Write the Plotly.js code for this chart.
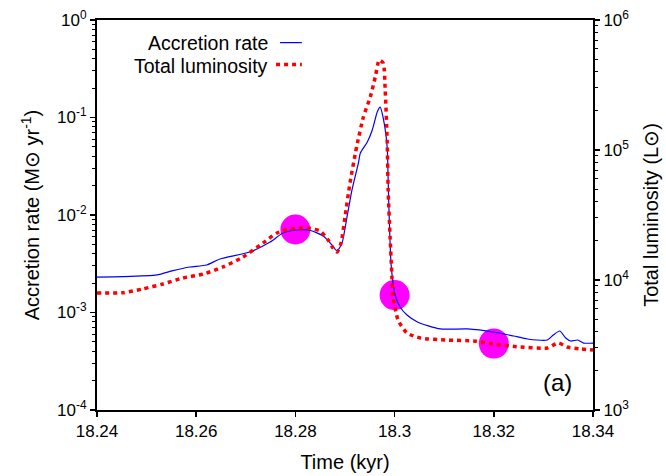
<!DOCTYPE html>
<html>
<head>
<meta charset="utf-8">
<script src="https://cdn.plot.ly/plotly-3.0.1.min.js"></script>
<style>html,body{margin:0;padding:0;background:#fff;}#chart{width:666px;height:476px;}</style>
</head>
<body>
<div id="chart"></div>
<script>
// Accretion rate (Msun/yr) vs time (kyr)
const timeAcc = [18.2400, 18.2452, 18.2521, 18.2553, 18.2587, 18.2621, 18.2648, 18.2708, 18.2749, 18.2775, 18.2803, 18.2830,
  18.2856, 18.2874, 18.2884, 18.2894, 18.2904, 18.2914, 18.2927, 18.2931, 18.2945, 18.2955,
  18.2965, 18.2971, 18.2977, 18.2985, 18.2987, 18.2989, 18.2993, 18.3001, 18.3011, 18.3025,
  18.3046, 18.3092, 18.3147, 18.3199, 18.3240, 18.3268, 18.3308, 18.3320, 18.3333, 18.3345,
  18.3355, 18.3369, 18.3381, 18.3400];
const accRate = [2.31e-3, 2.33e-3, 2.43e-3, 2.69e-3, 2.93e-3, 3.07e-3, 3.54e-3, 4.17e-3, 5.28e-3, 6.54e-3, 7.02e-3, 6.94e-3,
  6.09e-3, 4.92e-3, 4.27e-3, 5.16e-3, 9.5e-3, 1.80e-2, 3.41e-2, 4.32e-2, 5.61e-2, 7.44e-2,
  1.14e-1, 1.28e-1, 9.9e-2, 4.98e-2, 2.29e-2, 1.0e-2, 3.07e-3, 1.51e-3, 1.14e-3, 9.42e-4,
  8.0e-4, 6.78e-4, 6.78e-4, 6.31e-4, 5.74e-4, 5.35e-4, 5.22e-4, 5.88e-4, 6.46e-4, 5.47e-4,
  5.10e-4, 5.22e-4, 4.86e-4, 4.86e-4];

// Total luminosity (Lsun) vs time (kyr)
const timeLum = [18.2400, 18.2452, 18.2492, 18.2533, 18.2573, 18.2614, 18.2654, 18.2694, 18.2735, 18.2763,
  18.2789, 18.2824, 18.2850, 18.2866, 18.2874, 18.2884, 18.2892, 18.2900, 18.2910, 18.2921,
  18.2925, 18.2937, 18.2951, 18.2961, 18.2969, 18.2977, 18.2981, 18.2985, 18.2987, 18.2991,
  18.2994, 18.2997, 18.3007, 18.3025, 18.3052, 18.3106, 18.3159, 18.3199, 18.3254, 18.3308,
  18.3330, 18.3348, 18.3375, 18.3400];
const totLum = [7.94e3, 7.98e3, 8.53e3, 9.32e3, 1.036e4, 1.11e4, 1.26e4, 1.50e4, 1.93e4, 2.30e4,
  2.47e4, 2.51e4, 2.38e4, 2.03e4, 1.80e4, 1.64e4, 1.93e4, 3.05e4, 5.57e4, 9.48e4,
  1.13e5, 1.79e5, 2.56e5, 3.64e5, 4.92e5, 4.67e5, 2.90e5, 1.19e5, 4.92e4, 2.1e4,
  1.2e4, 7.4e3, 4.92e3, 3.91e3, 3.58e3, 3.45e3, 3.40e3, 3.22e3, 3.05e3, 3.0e3,
  3.28e3, 3.05e3, 2.95e3, 2.9e3];

// Highlighted epochs
const markTime = [18.28, 18.30, 18.32];
const markAcc = [7.1e-3, 1.51e-3, 4.8e-4];

const xTicks = [18.24, 18.26, 18.28, 18.30, 18.32, 18.34];
const xTickText = ['18.24', '18.26', '18.28', '18.3', '18.32', '18.34'];
const yTicks = [1e-4, 1e-3, 1e-2, 1e-1, 1];
const yTickText = ['10<sup>-4</sup>', '10<sup>-3</sup>', '10<sup>-2</sup>', '10<sup>-1</sup>', '10<sup>0</sup>'];
const y2Ticks = [1e3, 1e4, 1e5, 1e6];
const y2TickText = ['10<sup>3</sup>', '10<sup>4</sup>', '10<sup>5</sup>', '10<sup>6</sup>'];

function minorVals(lo, hi) {
  const v = [];
  for (let e = lo; e < hi; e++) for (let m = 2; m <= 9; m++) v.push(m * Math.pow(10, e));
  return v;
}

const FONT = 'Liberation Sans, Arial, Helvetica, sans-serif';

const traces = [
  {x: markTime, y: markAcc, type: 'scatter', mode: 'markers', yaxis: 'y',
   marker: {size: 30, color: '#FF00FF', line: {width: 0}}, showlegend: false, hoverinfo: 'skip'},
  {x: timeAcc, y: accRate, type: 'scatter', mode: 'lines', yaxis: 'y', name: 'Accretion rate',
   line: {color: '#0000FF', width: 1.2, shape: 'spline', smoothing: 0.6}, showlegend: false},
  {x: timeLum, y: totLum, type: 'scatter', mode: 'lines', yaxis: 'y2', name: 'Total luminosity',
   line: {color: '#FF0000', width: 3.5, dash: '4px,4px', shape: 'spline', smoothing: 0.6}, showlegend: false}
];

const axisCommon = {
  showline: true, linecolor: '#000', linewidth: 2, ticks: 'outside', ticklen: 5, tickwidth: 1.5,
  tickcolor: '#000', showgrid: false, zeroline: false,
  tickfont: {family: FONT, size: 17, color: '#000'}
};

const layout = {
  width: 666, height: 476,
  margin: {l: 97, r: 73, t: 20, b: 66},
  paper_bgcolor: '#fff', plot_bgcolor: '#fff',
  font: {family: FONT, color: '#000'},
  xaxis: Object.assign({}, axisCommon, {
    range: [18.24, 18.34], tickmode: 'array', tickvals: xTicks, ticktext: xTickText, mirror: true,
    title: {text: 'Time (kyr)', font: {family: FONT, size: 20, color: '#000'}, standoff: 15}
  }),
  yaxis: Object.assign({}, axisCommon, {
    type: 'log', range: [-4, 0], tickmode: 'array', tickvals: yTicks, ticktext: yTickText,
    minor: {tickmode: 'array', tickvals: minorVals(-4, 0), ticks: 'outside', ticklen: 3, tickwidth: 1, tickcolor: '#000'},
    title: {text: 'Accretion rate (M\u2299 yr<sup>-1</sup>)', font: {family: FONT, size: 20, color: '#000'}, standoff: 12}
  }),
  yaxis2: Object.assign({}, axisCommon, {
    type: 'log', range: [3, 6], overlaying: 'y', side: 'right', tickmode: 'array', tickvals: y2Ticks, ticktext: y2TickText,
    minor: {tickmode: 'array', tickvals: minorVals(3, 6), ticks: 'outside', ticklen: 3, tickwidth: 1, tickcolor: '#000'},
    title: {text: 'Total luminosity (L\u2299)', font: {family: FONT, size: 20, color: '#000'}, standoff: 16}
  }),
  annotations: [
    {xref: 'paper', yref: 'paper', x: 0.349, y: 0.942, xanchor: 'right', yanchor: 'middle', showarrow: false,
     text: 'Accretion rate', font: {family: FONT, size: 19.5, color: '#000'}},
    {xref: 'paper', yref: 'paper', x: 0.349, y: 0.883, xanchor: 'right', yanchor: 'middle', showarrow: false,
     text: 'Total luminosity', font: {family: FONT, size: 19.5, color: '#000'}},
    {xref: 'paper', yref: 'paper', x: 0.928, y: 0.07, xanchor: 'center', yanchor: 'middle', showarrow: false,
     text: '(a)', font: {family: FONT, size: 24, color: '#000'}}
  ],
  shapes: [
    {type: 'line', xref: 'paper', yref: 'paper', x0: 0.369, x1: 0.413, y0: 0.942, y1: 0.942,
     line: {color: '#0000FF', width: 1.2}},
    {type: 'line', xref: 'paper', yref: 'paper', x0: 0.361, x1: 0.413, y0: 0.886, y1: 0.886,
     line: {color: '#FF0000', width: 3.5, dash: '4px,4px'}}
  ]
};

Plotly.newPlot('chart', traces, layout, {displayModeBar: false, staticPlot: true});
</script>
</body>
</html>
